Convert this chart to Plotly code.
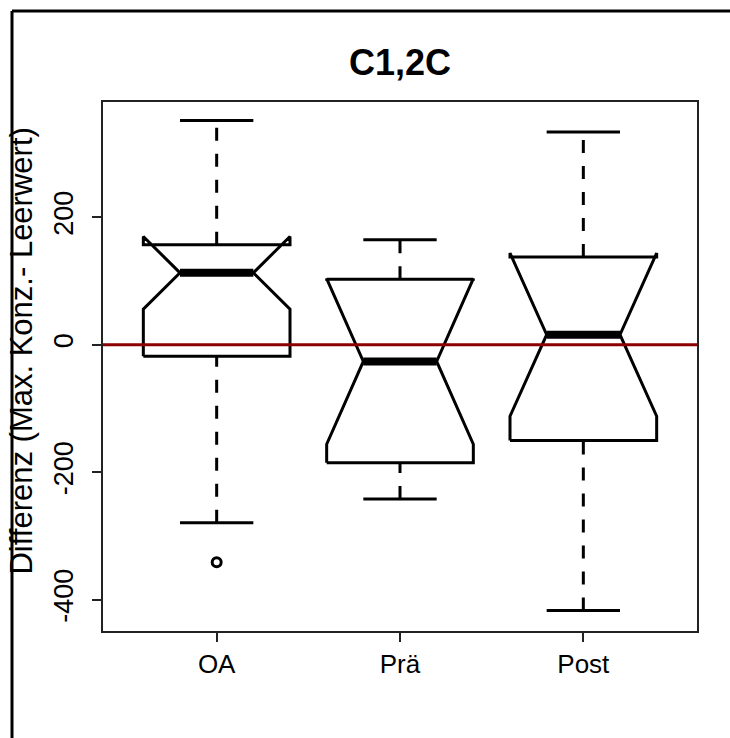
import plotly.graph_objects as go

# ---- data ----
categories = ["OA", "Prä", "Post"]
positions = [1, 2, 3]
whisker_low = [-279, -242, -417]
q1 = [-18, -185, -150]
median = [113, -26, 16]
q3 = [157, 103, 138]
whisker_high = [352, 165, 334]
notch_low = [56, -156, -112]
notch_high = [170, 104, 144]
outlier_pos = [1]
outlier_val = [-341]
y_ticks = [-400, -200, 0, 200]

title_text = "C1,2C"
ylab = "Differenz (Max. Konz.- Leerwert)"

FONT = "Liberation Sans, Arial, sans-serif"
WID = 0.4      # half box width (R default width 0.8)
NOTCH = 0.5    # notch inner fraction
STAPLE = 0.5   # staple fraction

fig = go.Figure()

for i, p in enumerate(positions):
    xs = [p + WID * f for f in (-1, 1, 1, NOTCH, 1, 1, -1, -1, -NOTCH, -1, -1)]
    ys = [q1[i], q1[i], notch_low[i], median[i], notch_high[i], q3[i], q3[i],
          notch_high[i], median[i], notch_low[i], q1[i]]
    fig.add_trace(go.Scatter(x=xs, y=ys, mode="lines",
                             line=dict(color="black", width=3),
                             hoverinfo="skip", showlegend=False))
    # median
    fig.add_trace(go.Scatter(x=[p - WID * NOTCH, p + WID * NOTCH], y=[median[i], median[i]],
                             mode="lines", line=dict(color="black", width=8),
                             hoverinfo="skip", showlegend=False))
    # whiskers (dashed)
    fig.add_trace(go.Scatter(x=[p, p], y=[whisker_low[i], q1[i]], mode="lines",
                             line=dict(color="black", width=3, dash="13px,13px"),
                             hoverinfo="skip", showlegend=False))
    fig.add_trace(go.Scatter(x=[p, p], y=[q3[i], whisker_high[i]], mode="lines",
                             line=dict(color="black", width=3, dash="13px,13px"),
                             hoverinfo="skip", showlegend=False))
    # staples
    for v in (whisker_low[i], whisker_high[i]):
        fig.add_trace(go.Scatter(x=[p - WID * STAPLE, p + WID * STAPLE], y=[v, v],
                                 mode="lines", line=dict(color="black", width=3),
                                 hoverinfo="skip", showlegend=False))

fig.add_trace(go.Scatter(x=outlier_pos, y=outlier_val, mode="markers",
                         marker=dict(symbol="circle-open", size=9, color="black",
                                     line=dict(width=3, color="black")),
                         hoverinfo="skip", showlegend=False))

fig.update_layout(
    width=730, height=738,
    margin=dict(l=103, r=33, t=102, b=107),
    paper_bgcolor="white", plot_bgcolor="white",
    font=dict(family=FONT, color="black"),
    showlegend=False,
    xaxis=dict(range=[0.38, 3.62], tickvals=positions, ticktext=categories,
               showgrid=False, zeroline=False, showline=True, mirror=True,
               linecolor="#222", linewidth=1.5, ticks="outside", ticklen=9,
               tickwidth=1.5, tickcolor="#222", tickfont=dict(size=26, family=FONT)),
    yaxis=dict(range=[-449, 381], tickvals=y_ticks, ticktext=[str(v) for v in y_ticks],
               showgrid=False, zeroline=False, showline=True, mirror=True,
               linecolor="#222", linewidth=1.5, ticks="outside", ticklen=9,
               tickwidth=1.5, tickcolor="#222", tickangle=-90, ticklabelstandoff=8,
               tickfont=dict(size=27, family=FONT)),
    annotations=[
        dict(text="<b>%s</b>" % title_text, x=0.5, y=1 + (102 - 63) / 529,
             xref="paper", yref="paper",
             showarrow=False, font=dict(size=36, family=FONT), xanchor="center",
             yanchor="middle"),
        dict(text=ylab, x=-0.138, y=0.5 + 15 / 529, xref="paper", yref="paper", textangle=-90,
             showarrow=False, font=dict(size=31, family=FONT), xanchor="center",
             yanchor="middle"),
    ],
    shapes=[
        dict(type="line", xref="paper", yref="y", x0=0, x1=1, y0=0, y1=0,
             line=dict(color="#8B0000", width=3), layer="above"),
        dict(type="line", xref="paper", yref="paper", x0=-0.1532, x1=-0.1532,
             y0=-0.5, y1=1.172, line=dict(color="black", width=3)),
        dict(type="line", xref="paper", yref="paper", x0=-0.1532, x1=1.3,
             y0=1.172, y1=1.172, line=dict(color="black", width=3)),
    ],
)

fig.write_html("out.html", config={"displayModeBar": False},
               post_script="document.body.style.margin='0';document.body.style.overflow='hidden';")
